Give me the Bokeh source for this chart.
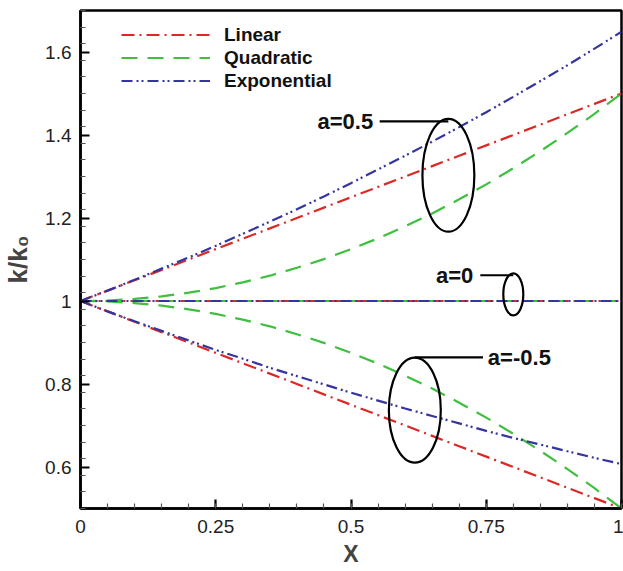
from bokeh.plotting import figure
from bokeh.models import FixedTicker, Legend, LegendItem, Range1d
from bokeh.core.properties import value
from bokeh.embed import file_html
from bokeh.resources import INLINE

# ---------------- data ----------------
x = [0.0, 0.05, 0.1, 0.15, 0.2, 0.25, 0.3, 0.35, 0.4, 0.45, 0.5,
     0.55, 0.6, 0.65, 0.7, 0.75, 0.8, 0.85, 0.9, 0.95, 1.0]

linear_pos = [1.0, 1.025, 1.05, 1.075, 1.1, 1.125, 1.15, 1.175, 1.2, 1.225, 1.25,
              1.275, 1.3, 1.325, 1.35, 1.375, 1.4, 1.425, 1.45, 1.475, 1.5]
linear_zero = [1.0] * 21
linear_neg = [1.0, 0.975, 0.95, 0.925, 0.9, 0.875, 0.85, 0.825, 0.8, 0.775, 0.75,
              0.725, 0.7, 0.675, 0.65, 0.625, 0.6, 0.575, 0.55, 0.525, 0.5]

quad_pos = [1.0, 1.001, 1.005, 1.011, 1.02, 1.031, 1.045, 1.061, 1.08, 1.101, 1.125,
            1.151, 1.18, 1.211, 1.245, 1.281, 1.32, 1.361, 1.405, 1.451, 1.5]
quad_zero = [1.0] * 21
quad_neg = [1.0, 0.999, 0.995, 0.989, 0.98, 0.969, 0.955, 0.939, 0.92, 0.899, 0.875,
            0.849, 0.82, 0.789, 0.755, 0.719, 0.68, 0.639, 0.595, 0.549, 0.5]

exp_pos = [1.0, 1.025, 1.051, 1.078, 1.105, 1.133, 1.162, 1.191, 1.221, 1.252, 1.284,
           1.317, 1.350, 1.384, 1.419, 1.455, 1.492, 1.530, 1.568, 1.608, 1.649]
exp_zero = [1.0] * 21
exp_neg = [1.0, 0.975, 0.951, 0.928, 0.905, 0.882, 0.861, 0.839, 0.819, 0.799, 0.779,
           0.760, 0.741, 0.723, 0.705, 0.687, 0.670, 0.654, 0.638, 0.622, 0.607]

series_names = ["Linear", "Quadratic", "Exponential"]
x_ticks = [0, 0.25, 0.5, 0.75, 1]
x_tick_labels = ["0", "0.25", "0.5", "0.75", "1"]
y_ticks = [0.6, 0.8, 1.0, 1.2, 1.4, 1.6]
y_tick_labels = ["0.6", "0.8", "1", "1.2", "1.4", "1.6"]
group_labels = ["a=0.5", "a=0", "a=-0.5"]

# ---------------- styles ----------------
RED = "#d92a26"
GREEN = "#3fbf3f"
BLUE = "#3535a0"
LW = 2.2
DASH_LIN = "13 5 2 5"
DASH_QUAD = "16 10"
DASH_EXP = "11 4 2 3 2 4"
FONT = "Liberation Sans"

p = figure(width=623, height=571, output_backend="svg", toolbar_location=None,
           x_range=Range1d(0, 1), y_range=Range1d(0.5, 1.7),
           min_border_left=77, min_border_right=2, min_border_top=10,
           min_border_bottom=63)
p.background_fill_color = "white"
p.border_fill_color = "white"
p.outline_line_color = "black"
p.outline_line_width = 2.5
p.xgrid.visible = False
p.ygrid.visible = False

# axes
for ax in (p.xaxis[0], p.yaxis[0]):
    ax.axis_line_width = 2.5
    ax.axis_line_color = "black"
    ax.major_tick_in = 9
    ax.major_tick_out = 0
    ax.minor_tick_in = 5
    ax.minor_tick_out = 0
    ax.major_tick_line_width = 2.2
    ax.minor_tick_line_width = 1.2
    ax.minor_tick_line_color = "#555555"
    ax.major_label_text_font = FONT
    ax.major_label_text_font_size = "19px"
    ax.major_label_text_color = "#222222"
    ax.axis_label_text_font = FONT
    ax.axis_label_text_font_style = "bold"

x_minor = [round(i * 0.05, 2) for i in range(21)]
y_minor = [round(0.5 + i * 0.04, 2) for i in range(31)]
p.xaxis.ticker = FixedTicker(ticks=x_ticks, minor_ticks=x_minor)
p.yaxis.ticker = FixedTicker(ticks=y_ticks, minor_ticks=y_minor)
p.xaxis.major_label_overrides = dict(zip(x_ticks, x_tick_labels))
p.yaxis.major_label_overrides = dict(zip(y_ticks, y_tick_labels))
p.xaxis.major_label_standoff = 11
p.yaxis.major_label_standoff = 9
p.xaxis.axis_label = "X"
p.yaxis.axis_label = "k/k\u2080"
p.xaxis.axis_label_text_font_size = "23px"
p.yaxis.axis_label_text_font_size = "26px"
p.xaxis.axis_label_standoff = 5
p.yaxis.axis_label_standoff = 9

# lines
r_lin = [p.line(x, ys, line_color=RED, line_width=LW, line_dash=DASH_LIN)
         for ys in (linear_pos, linear_zero, linear_neg)]
r_quad = [p.line(x, ys, line_color=GREEN, line_width=LW, line_dash=DASH_QUAD)
          for ys in (quad_pos, quad_zero, quad_neg)]
r_exp = [p.line(x, ys, line_color=BLUE, line_width=LW, line_dash=DASH_EXP)
         for ys in (exp_pos, exp_zero, exp_neg)]

# ellipses marking each group
ell_x = [0.680, 0.800, 0.618]
ell_y = [1.303, 1.016, 0.737]
ell_w = [0.096, 0.037, 0.096]
ell_h = [0.272, 0.101, 0.253]
p.ellipse(ell_x, ell_y, width=ell_w, height=ell_h, fill_alpha=0,
          line_color="black", line_width=2.2)

# leader lines
p.segment(x0=[0.553, 0.739, 0.618], y0=[1.433, 1.062, 0.864],
          x1=[0.680, 0.800, 0.744], y1=[1.433, 1.062, 0.864],
          line_color="black", line_width=2.2)

# labels
p.text(x=[0.541, 0.726], y=[1.433, 1.062], text=group_labels[:2],
       text_font=value(FONT), text_font_style="bold", text_font_size="22px",
       text_align="right", text_baseline="middle", text_color="#111111")
p.text(x=[0.753], y=[0.864], text=group_labels[2:],
       text_font=value(FONT), text_font_style="bold", text_font_size="22px",
       text_align="left", text_baseline="middle", text_color="#111111")

legend = Legend(items=[LegendItem(label=series_names[0], renderers=[r_lin[0]]),
                       LegendItem(label=series_names[1], renderers=[r_quad[0]]),
                       LegendItem(label=series_names[2], renderers=[r_exp[0]])],
                location=(41, 416), border_line_alpha=0, background_fill_alpha=0,
                padding=0, margin=0, spacing=0, glyph_width=89, glyph_height=23,
                label_height=23, label_standoff=14,
                label_text_font=FONT, label_text_font_style="bold",
                label_text_font_size="19px", label_text_color="#111111")
p.add_layout(legend, "center")

open("out.html", "w").write(file_html(p, INLINE))
